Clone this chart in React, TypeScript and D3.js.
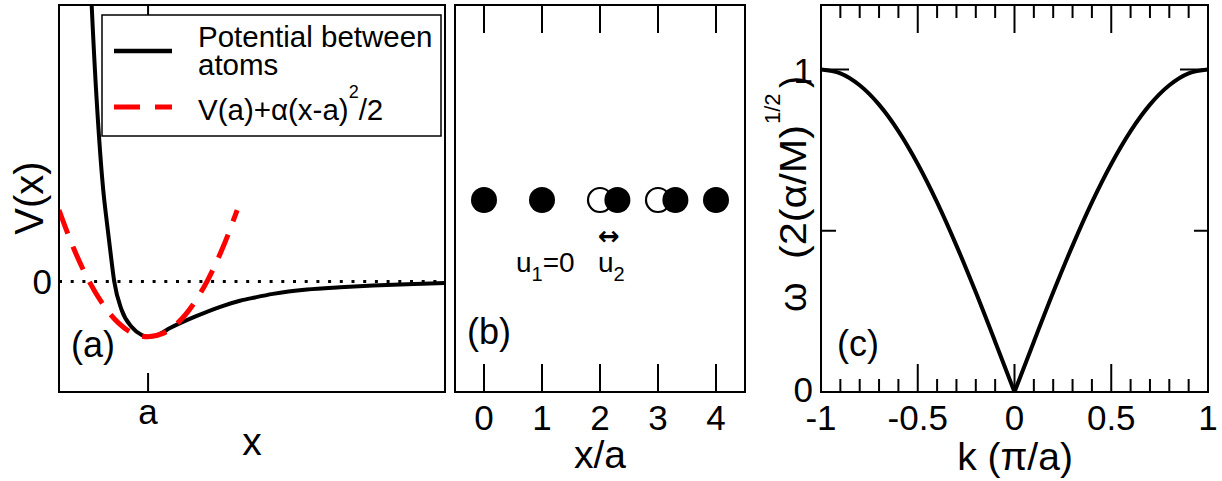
import React from 'react';
import * as d3 from 'd3';

const FONT = "'Liberation Sans', Arial, Helvetica, sans-serif";

// ---------- Panel (a): interatomic potential ----------
const potentialX = [0.61, 0.62, 0.676, 0.698, 0.723, 0.749, 0.772, 0.822, 0.89, 0.957, 1.0, 1.047, 1.148, 1.316, 1.496, 1.619, 1.72, 1.841, 2.07, 2.293, 2.515, 2.744, 3.0];
const potentialY = [5.6, 5.0, 2.376, 1.653, 1.056, 0.477, 0, -0.517, -0.825, -0.969, -1.0, -0.987, -0.843, -0.638, -0.45, -0.35, -0.29, -0.225, -0.145, -0.105, -0.075, -0.05, -0.03];
const harmonicX = [0.4, 0.5, 0.6, 0.7, 0.8, 0.9, 1.0, 1.1, 1.2, 1.3, 1.4, 1.5, 1.6];
const harmonicY = [1.29, 0.59, 0.016, -0.43, -0.75, -0.94, -1.0, -0.94, -0.75, -0.43, 0.016, 0.59, 1.29];
const aXTicks = [1];
const aXTickLabels = ['a'];
const aYTicks = [0];
const aYTickLabels = ['0'];
const legendLabels = ['Potential between', 'atoms', 'V(a)+α(x-a)', '2', '/2'];

// ---------- Panel (b): atom chain ----------
const atomsRest = [2, 3];
const atomsDisplaced = [0, 1, 2.3, 3.3, 4];
const bTicks = [0, 1, 2, 3, 4];
const bTickLabels = ['0', '1', '2', '3', '4'];

// ---------- Panel (c): dispersion ----------
const kValues = [-1, -0.9, -0.8, -0.7, -0.6, -0.5, -0.4, -0.3, -0.2, -0.1, 0, 0.1, 0.2, 0.3, 0.4, 0.5, 0.6, 0.7, 0.8, 0.9, 1];
const omegaValues = [1, 0.988, 0.951, 0.891, 0.809, 0.707, 0.588, 0.454, 0.309, 0.156, 0, 0.156, 0.309, 0.454, 0.588, 0.707, 0.809, 0.891, 0.951, 0.988, 1];
const cXMajor = [-1, -0.5, 0, 0.5, 1];
const cXMajorLabels = ['-1', '-0.5', '0', '0.5', '1'];
const cYMajor = [0, 1];
const cYMajorLabels = ['0', '1'];
const cYMinor = [0.5];

const TOP = 5;
const BOT = 392;

export default function App() {
  const xA = d3.scaleLinear().domain([0.4, 3.0]).range([59, 445]);
  const yA = d3.scaleLinear().domain([-2, 5]).range([BOT, TOP]);
  const xB = d3.scaleLinear().domain([-0.5, 4.5]).range([455, 745]);
  const xC = d3.scaleLinear().domain([-1, 1]).range([821, 1208]);
  const yC = d3.scaleLinear().domain([0, 1.2]).range([BOT, TOP]);

  const lineA = d3.line<[number, number]>().x(d => xA(d[0])).y(d => yA(d[1])).curve(d3.curveMonotoneX);
  const potPath = lineA(potentialX.map((x, i) => [x, potentialY[i]]) as [number, number][]) || '';
  const harmPath = lineA(harmonicX.map((x, i) => [x, harmonicY[i]]) as [number, number][]) || '';

  const lineC = d3.line<[number, number]>().x(d => xC(d[0])).y(d => yC(d[1])).curve(d3.curveMonotoneX);
  const cPts = kValues.map((k, i) => [k, omegaValues[i]] as [number, number]);
  const cLeft = lineC(cPts.filter(p => p[0] <= 0)) || '';
  const cRight = lineC(cPts.filter(p => p[0] >= 0)) || '';
  const cXMinor = xC.ticks(20).filter(t => !cXMajor.some(m => Math.abs(m - t) < 1e-6));

  const frame = (x0: number, x1: number) => (
    <rect x={x0} y={TOP} width={x1 - x0} height={BOT - TOP} fill="none" stroke="#000" strokeWidth={2} />
  );

  return (
    <svg width={1222} height={481} style={{ position: 'absolute', left: 0, top: 0, background: '#fff' }} fontFamily={FONT}>
      <rect x={0} y={0} width={1222} height={481} fill="#fff" />
      <defs>
        <clipPath id="clipA">
          <rect x={59} y={TOP} width={386} height={BOT - TOP} />
        </clipPath>
      </defs>

      {/* ================= Panel (a) ================= */}
      <line x1={xA(0.4)} x2={xA(3.0)} y1={yA(0)} y2={yA(0)} stroke="#000" strokeWidth={3} strokeDasharray="3 8.7" />
      <g clipPath="url(#clipA)">
        <path d={potPath} fill="none" stroke="#000" strokeWidth={4} />
        <path d={harmPath} fill="none" stroke="#ff0000" strokeWidth={5} strokeDasharray="25 14" />
      </g>
      {aXTicks.map(t => (
        <g key={'at' + t}>
          <line x1={xA(t)} x2={xA(t)} y1={BOT} y2={BOT - 19} stroke="#000" strokeWidth={2} />
          <line x1={xA(t)} x2={xA(t)} y1={TOP} y2={TOP + 19} stroke="#000" strokeWidth={2} />
        </g>
      ))}
      {frame(59, 445)}
      {aXTicks.map((t, i) => (
        <text key={'al' + t} x={xA(t)} y={424} fontSize={35} textAnchor="middle">{aXTickLabels[i]}</text>
      ))}
      {aYTicks.map((t, i) => (
        <text key={'ayl' + t} x={52} y={yA(t) + 13} fontSize={35} textAnchor="end">{aYTickLabels[i]}</text>
      ))}
      <text x={252} y={455} fontSize={39} textAnchor="middle">x</text>
      <text transform="translate(43,198) rotate(-90)" fontSize={40} textAnchor="middle">V(x)</text>
      <text x={71} y={357} fontSize={36}>(a)</text>

      {/* legend */}
      <rect x={102} y={15} width={339} height={121} fill="#fff" stroke="#000" strokeWidth={1.5} />
      <line x1={114} x2={172} y1={51} y2={51} stroke="#000" strokeWidth={4.3} />
      <line x1={114} x2={172} y1={107} y2={107} stroke="#ff0000" strokeWidth={5} strokeDasharray="26 15" />
      <text x={198} y={47} fontSize={29.5}>{legendLabels[0]}</text>
      <text x={198} y={75} fontSize={29.5}>{legendLabels[1]}</text>
      <text x={198} y={120} fontSize={29.5}>
        {legendLabels[2]}
        <tspan fontSize={18} dy={-22}>{legendLabels[3]}</tspan>
        <tspan fontSize={29.5} dy={22}>{legendLabels[4]}</tspan>
      </text>

      {/* ================= Panel (b) ================= */}
      {bTicks.map(t => (
        <g key={'bt' + t}>
          <line x1={xB(t)} x2={xB(t)} y1={BOT} y2={BOT - 28} stroke="#000" strokeWidth={2} />
          <line x1={xB(t)} x2={xB(t)} y1={TOP} y2={TOP + 28} stroke="#000" strokeWidth={2} />
        </g>
      ))}
      {frame(455, 745)}
      {atomsRest.map(p => (
        <circle key={'r' + p} cx={xB(p)} cy={200} r={12} fill="#fff" stroke="#000" strokeWidth={2.2} />
      ))}
      {atomsDisplaced.map(p => (
        <circle key={'d' + p} cx={xB(p)} cy={200} r={13} fill="#000" />
      ))}
      {bTicks.map((t, i) => (
        <text key={'bl' + t} x={xB(t)} y={430} fontSize={35} textAnchor="middle">{bTickLabels[i]}</text>
      ))}
      <text x={600} y={468} fontSize={39} textAnchor="middle">x/a</text>
      <text x={467} y={344} fontSize={36}>(b)</text>
      <text x={516} y={272} fontSize={28}>
        u<tspan fontSize={20} dy={9}>1</tspan><tspan fontSize={28} dy={-9}>=0</tspan>
      </text>
      <text x={598} y={272} fontSize={28}>
        u<tspan fontSize={20} dy={9}>2</tspan>
      </text>
      <text x={609} y={245} fontSize={26} fontWeight="bold" textAnchor="middle" fontFamily="'DejaVu Sans', sans-serif">↔</text>

      {/* ================= Panel (c) ================= */}
      <path d={cLeft} fill="none" stroke="#000" strokeWidth={4} />
      <path d={cRight} fill="none" stroke="#000" strokeWidth={4} />
      {cXMajor.map(t => (
        <g key={'cM' + t}>
          <line x1={xC(t)} x2={xC(t)} y1={BOT} y2={BOT - 28} stroke="#000" strokeWidth={2} />
          <line x1={xC(t)} x2={xC(t)} y1={TOP} y2={TOP + 28} stroke="#000" strokeWidth={2} />
        </g>
      ))}
      {cXMinor.map(t => (
        <g key={'cm' + t}>
          <line x1={xC(t)} x2={xC(t)} y1={BOT} y2={BOT - 13} stroke="#000" strokeWidth={2} />
          <line x1={xC(t)} x2={xC(t)} y1={TOP} y2={TOP + 13} stroke="#000" strokeWidth={2} />
        </g>
      ))}
      {cYMajor.map(t => (
        <g key={'cyM' + t}>
          <line x1={821} x2={821 + 28} y1={yC(t)} y2={yC(t)} stroke="#000" strokeWidth={2} />
          <line x1={1208} x2={1208 - 28} y1={yC(t)} y2={yC(t)} stroke="#000" strokeWidth={2} />
        </g>
      ))}
      {cYMinor.map(t => (
        <g key={'cym' + t}>
          <line x1={821} x2={821 + 15} y1={yC(t)} y2={yC(t)} stroke="#000" strokeWidth={2} />
          <line x1={1208} x2={1208 - 14} y1={yC(t)} y2={yC(t)} stroke="#000" strokeWidth={2} />
        </g>
      ))}
      {frame(821, 1208)}
      {cXMajor.map((t, i) => (
        <text key={'cxl' + t} x={xC(t)} y={430} fontSize={35} textAnchor="middle">{cXMajorLabels[i]}</text>
      ))}
      {cYMajor.map((t, i) => (
        <text key={'cyl' + t} x={813} y={yC(t) + (t === 0 ? 10 : 13)} fontSize={35} textAnchor="end">{cYMajorLabels[i]}</text>
      ))}
      <text x={1015} y={470} fontSize={39} textAnchor="middle">k (π/a)</text>
      <g transform="translate(806,0) rotate(-90)">
        <text fontSize={36}>
          <tspan x={-312} y={0} fontSize={38}>ω</tspan>
          <tspan x={-259} y={0} textLength={134} lengthAdjust="spacingAndGlyphs">(2(α/M)</tspan>
          <tspan x={-124} y={-26} fontSize={22}>1/2</tspan>
          <tspan x={-88} y={0}>)</tspan>
        </text>
      </g>
      <text x={837} y={356} fontSize={36}>(c)</text>
    </svg>
  );
}
